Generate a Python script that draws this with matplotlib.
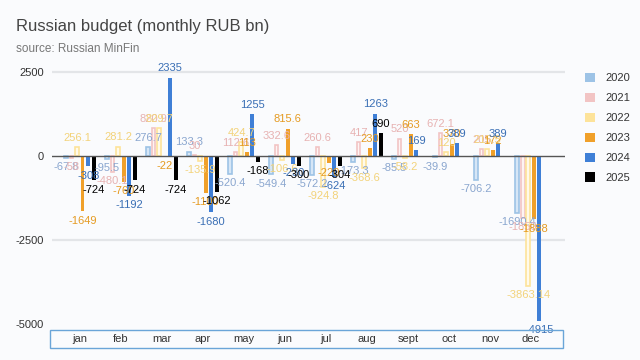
import matplotlib
matplotlib.use("Agg")
import matplotlib.pyplot as plt
import numpy as np
from matplotlib.patches import Rectangle, Patch

months = ['jan', 'feb', 'mar', 'apr', 'may', 'jun', 'jul', 'aug', 'sept', 'oct', 'nov', 'dec']
years = ['2020', '2021', '2022', '2023', '2024', '2025']

v2020 = [-67.8, -95.5, 276.7, 133.3, -520.4, -549.4, -572.2, -173.3, -85.5, -39.9, -706.2, -1690.4]
v2021 = [-58.0, -480.1, 820.9, 30.0, 112.6, 332.6, 260.6, 417.0, 520.0, 672.1, 205.0, -1850.0]
v2022 = [256.1, 281.2, 829.7, -135.9, 424.7, -106.6, -924.8, -368.6, -58.2, 120.0, 215.5, -3863.14]
v2023 = [-1649, -760, -22, -1100, 113, 815.6, -220, 230, 663, 370, 172, -1888]
v2024 = [-308, -1192, 2335, -1680, 1255, -230, -624, 1263, 169, 389, 389, -4915]
v2025 = [-724, -724, -724, -1062, -168, -300, -304, 690, np.nan, np.nan, np.nan, np.nan]

series = [v2020, v2021, v2022, v2023, v2024, v2025]
colors = ['#9dc3e6', '#f2c4c4', '#fde39a', '#f0a02a', '#3f7fd6', '#000000']
faces = ['#d6e6f6', '#fdf4f4', '#fffaea', '#f0a02a', '#3f7fd6', '#000000']
text_colors = ['#8aa6cf', '#e7b2b2', '#f3d37a', '#e59b22', '#3a6fb5', '#000000']

W, H = 640, 360
fig = plt.figure(figsize=(W / 100, H / 100), dpi=100)
bg = '#fafbfd'
fig.patch.set_facecolor(bg)
plt.rcParams['font.family'] = ['Liberation Sans', 'DejaVu Sans']

ax = fig.add_axes([52 / W, 1 - 327.4 / H, (565 - 52) / W, (327.4 - 65.3) / H])
ax.set_facecolor(bg)
ax.set_xlim(-0.68, 11.83)
ax.set_ylim(-5100, 2700)
for s in ax.spines.values():
    s.set_visible(False)

for yv in (2500, -2500):
    ax.axhline(yv, color='#e3e5e8', lw=1.6, zorder=0)
ax.axhline(0, color='#555555', lw=1.0, zorder=3)

x = np.arange(len(months))
bw = 0.09
step = 0.135
for i, (vals, c, fc, tc) in enumerate(zip(series, colors, faces, text_colors)):
    off = (i - 2.5) * step
    arr = np.array(vals, dtype=float)
    lw = 1.2 if i < 3 else 0
    ax.bar(x + off, arr, width=bw, color=fc, edgecolor=c, linewidth=lw, zorder=2)
    for xi, v in zip(x, arr):
        if np.isnan(v):
            continue
        lab = f'{v:g}'
        if v >= 0:
            ax.annotate(lab, (xi + off, v), xytext=(0, 3), textcoords='offset points',
                        ha='center', va='bottom', fontsize=8, color=tc, zorder=4)
        else:
            ax.annotate(lab, (xi + off, v), xytext=(0, -3), textcoords='offset points',
                        ha='center', va='top', fontsize=8, color=tc, zorder=4,
                        annotation_clip=False)

ax.set_yticks([2500, 0, -2500, -5000])
ax.set_yticklabels(['2500', '0', '-2500', '-5000'], fontsize=8, color='#333333')
ax.tick_params(axis='y', length=0, pad=6)
ax.set_xticks(x)
ax.set_xticklabels(months, fontsize=8, color='#333333')
ax.tick_params(axis='x', length=0, pad=5)

# selection box around category labels
fig.patches.append(Rectangle((50 / W, 1 - 348 / H), (563 - 50) / W, 18 / H,
                             transform=fig.transFigure, fill=False,
                             edgecolor='#6aa5d8', lw=1.0, zorder=1))

fig.text(16 / W, 1 - 26 / H, 'Russian budget (monthly RUB bn)', fontsize=12,
         color='#444444', va='center', ha='left')
fig.text(16 / W, 1 - 49 / H, 'source: Russian MinFin', fontsize=8.5,
         color='#777777', va='center', ha='left')

handles = [Patch(facecolor=c, edgecolor='none') for c in colors]
fig.legend(handles, years, loc='upper left', bbox_to_anchor=(575 / W, 1 - 63 / H),
           frameon=False, fontsize=8, handlelength=0.9, handleheight=0.9,
           labelspacing=0.85, handletextpad=0.9, labelcolor='#333333')

fig.savefig('out.png', dpi=100, facecolor=bg)
